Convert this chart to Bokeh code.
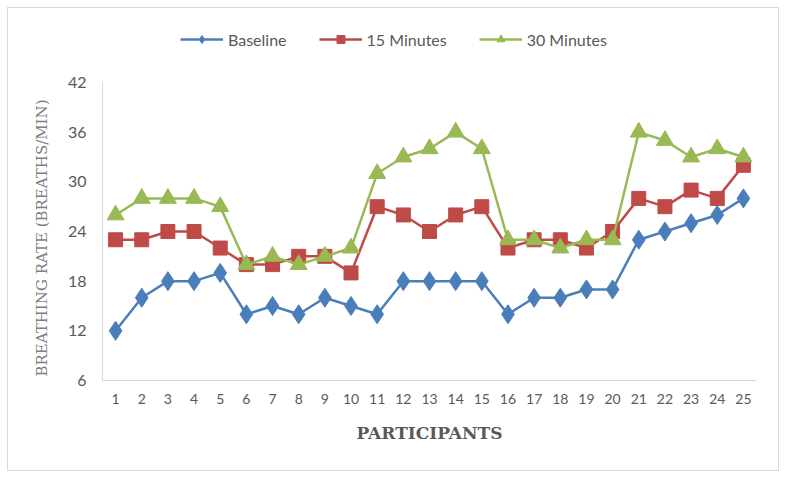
from bokeh.plotting import figure
from bokeh.models import Legend, LegendItem, FixedTicker, Range1d, Title
from bokeh.embed import file_html
from bokeh.resources import INLINE

participants = list(range(1, 26))
baseline = [12, 16, 18, 18, 19, 14, 15, 14, 16, 15, 14, 18, 18, 18, 18, 14, 16, 16, 17, 17, 23, 24, 25, 26, 28]
min15 = [23, 23, 24, 24, 22, 20, 20, 21, 21, 19, 27, 26, 24, 26, 27, 22, 23, 23, 22, 24, 28, 27, 29, 28, 32]
min30 = [26, 28, 28, 28, 27, 20, 21, 20, 21, 22, 31, 33, 34, 36, 34, 23, 23, 22, 23, 23, 36, 35, 33, 34, 33]
y_ticks = [6, 12, 18, 24, 30, 36, 42]

p = figure(width=772, height=464, output_backend="svg", toolbar_location=None,
           x_range=Range1d(0.5, 25.5), y_range=Range1d(6, 49.25),
           min_border_left=94, min_border_right=24, min_border_top=14, min_border_bottom=92)
p.styles = {"border": "1px solid #D9D9D9", "box-sizing": "border-box", "margin": "7px 0 0 7px"}
p.outline_line_color = None
p.grid.visible = False

blue, red, green = "#4A7EBB", "#BE4B48", "#98B954"

l1 = p.line(participants, baseline, color=blue, line_width=2.5)
m1 = p.scatter(participants, baseline, marker="diamond", size=19, color=blue)
l2 = p.line(participants, min15, color=red, line_width=2.5)
m2 = p.scatter(participants, min15, marker="square", size=14, color=red)
l3 = p.line(participants, min30, color=green, line_width=2.5)
m3 = p.scatter(participants, min30, marker="triangle", size=17, color=green)

legend = Legend(items=[LegendItem(label="Baseline", renderers=[l1, m1]),
                       LegendItem(label="15 Minutes", renderers=[l2, m2]),
                       LegendItem(label="30 Minutes", renderers=[l3, m3])],
                orientation="horizontal", location=(78, 331),
                label_text_font="Lato", label_text_font_size="16px", label_text_color="#595959",
                label_standoff=5, label_height=20, glyph_height=20,
                glyph_width=43, spacing=32, border_line_color=None, background_fill_alpha=0,
                margin=0, padding=0)
p.add_layout(legend, "center")

p.xaxis.ticker = FixedTicker(ticks=participants)
p.yaxis.ticker = FixedTicker(ticks=y_ticks)
for ax in (p.xaxis, p.yaxis):
    ax.axis_line_color = "#D9D9D9"
    ax.major_tick_line_color = None
    ax.minor_tick_line_color = None
    ax.major_label_text_font = "Lato"
    ax.major_label_text_color = "#595959"
p.yaxis.bounds = (6, 42)
ax = p.xaxis[0]
ax.major_label_text_font_size = "14px"
ax.major_label_standoff = 7
ax.axis_label = "PARTICIPANTS"
ax.axis_label_text_font = "DejaVu Serif"
ax.axis_label_text_font_style = "bold"
ax.axis_label_text_font_size = "17px"
ax.axis_label_text_color = "#595959"
ax.axis_label_standoff = 16
ay = p.yaxis[0]
ay.major_label_text_font_size = "16px"
ay.major_label_standoff = 10

ytitle = Title(text="BREATHING RATE (BREATHS/MIN)", align="left", offset=4,
               text_font="DejaVu Serif", text_font_style="normal", text_font_size="15px",
               text_color="#7F7F7F", standoff=27)
p.add_layout(ytitle, "left")

open("out.html", "w").write(file_html(p, INLINE))
